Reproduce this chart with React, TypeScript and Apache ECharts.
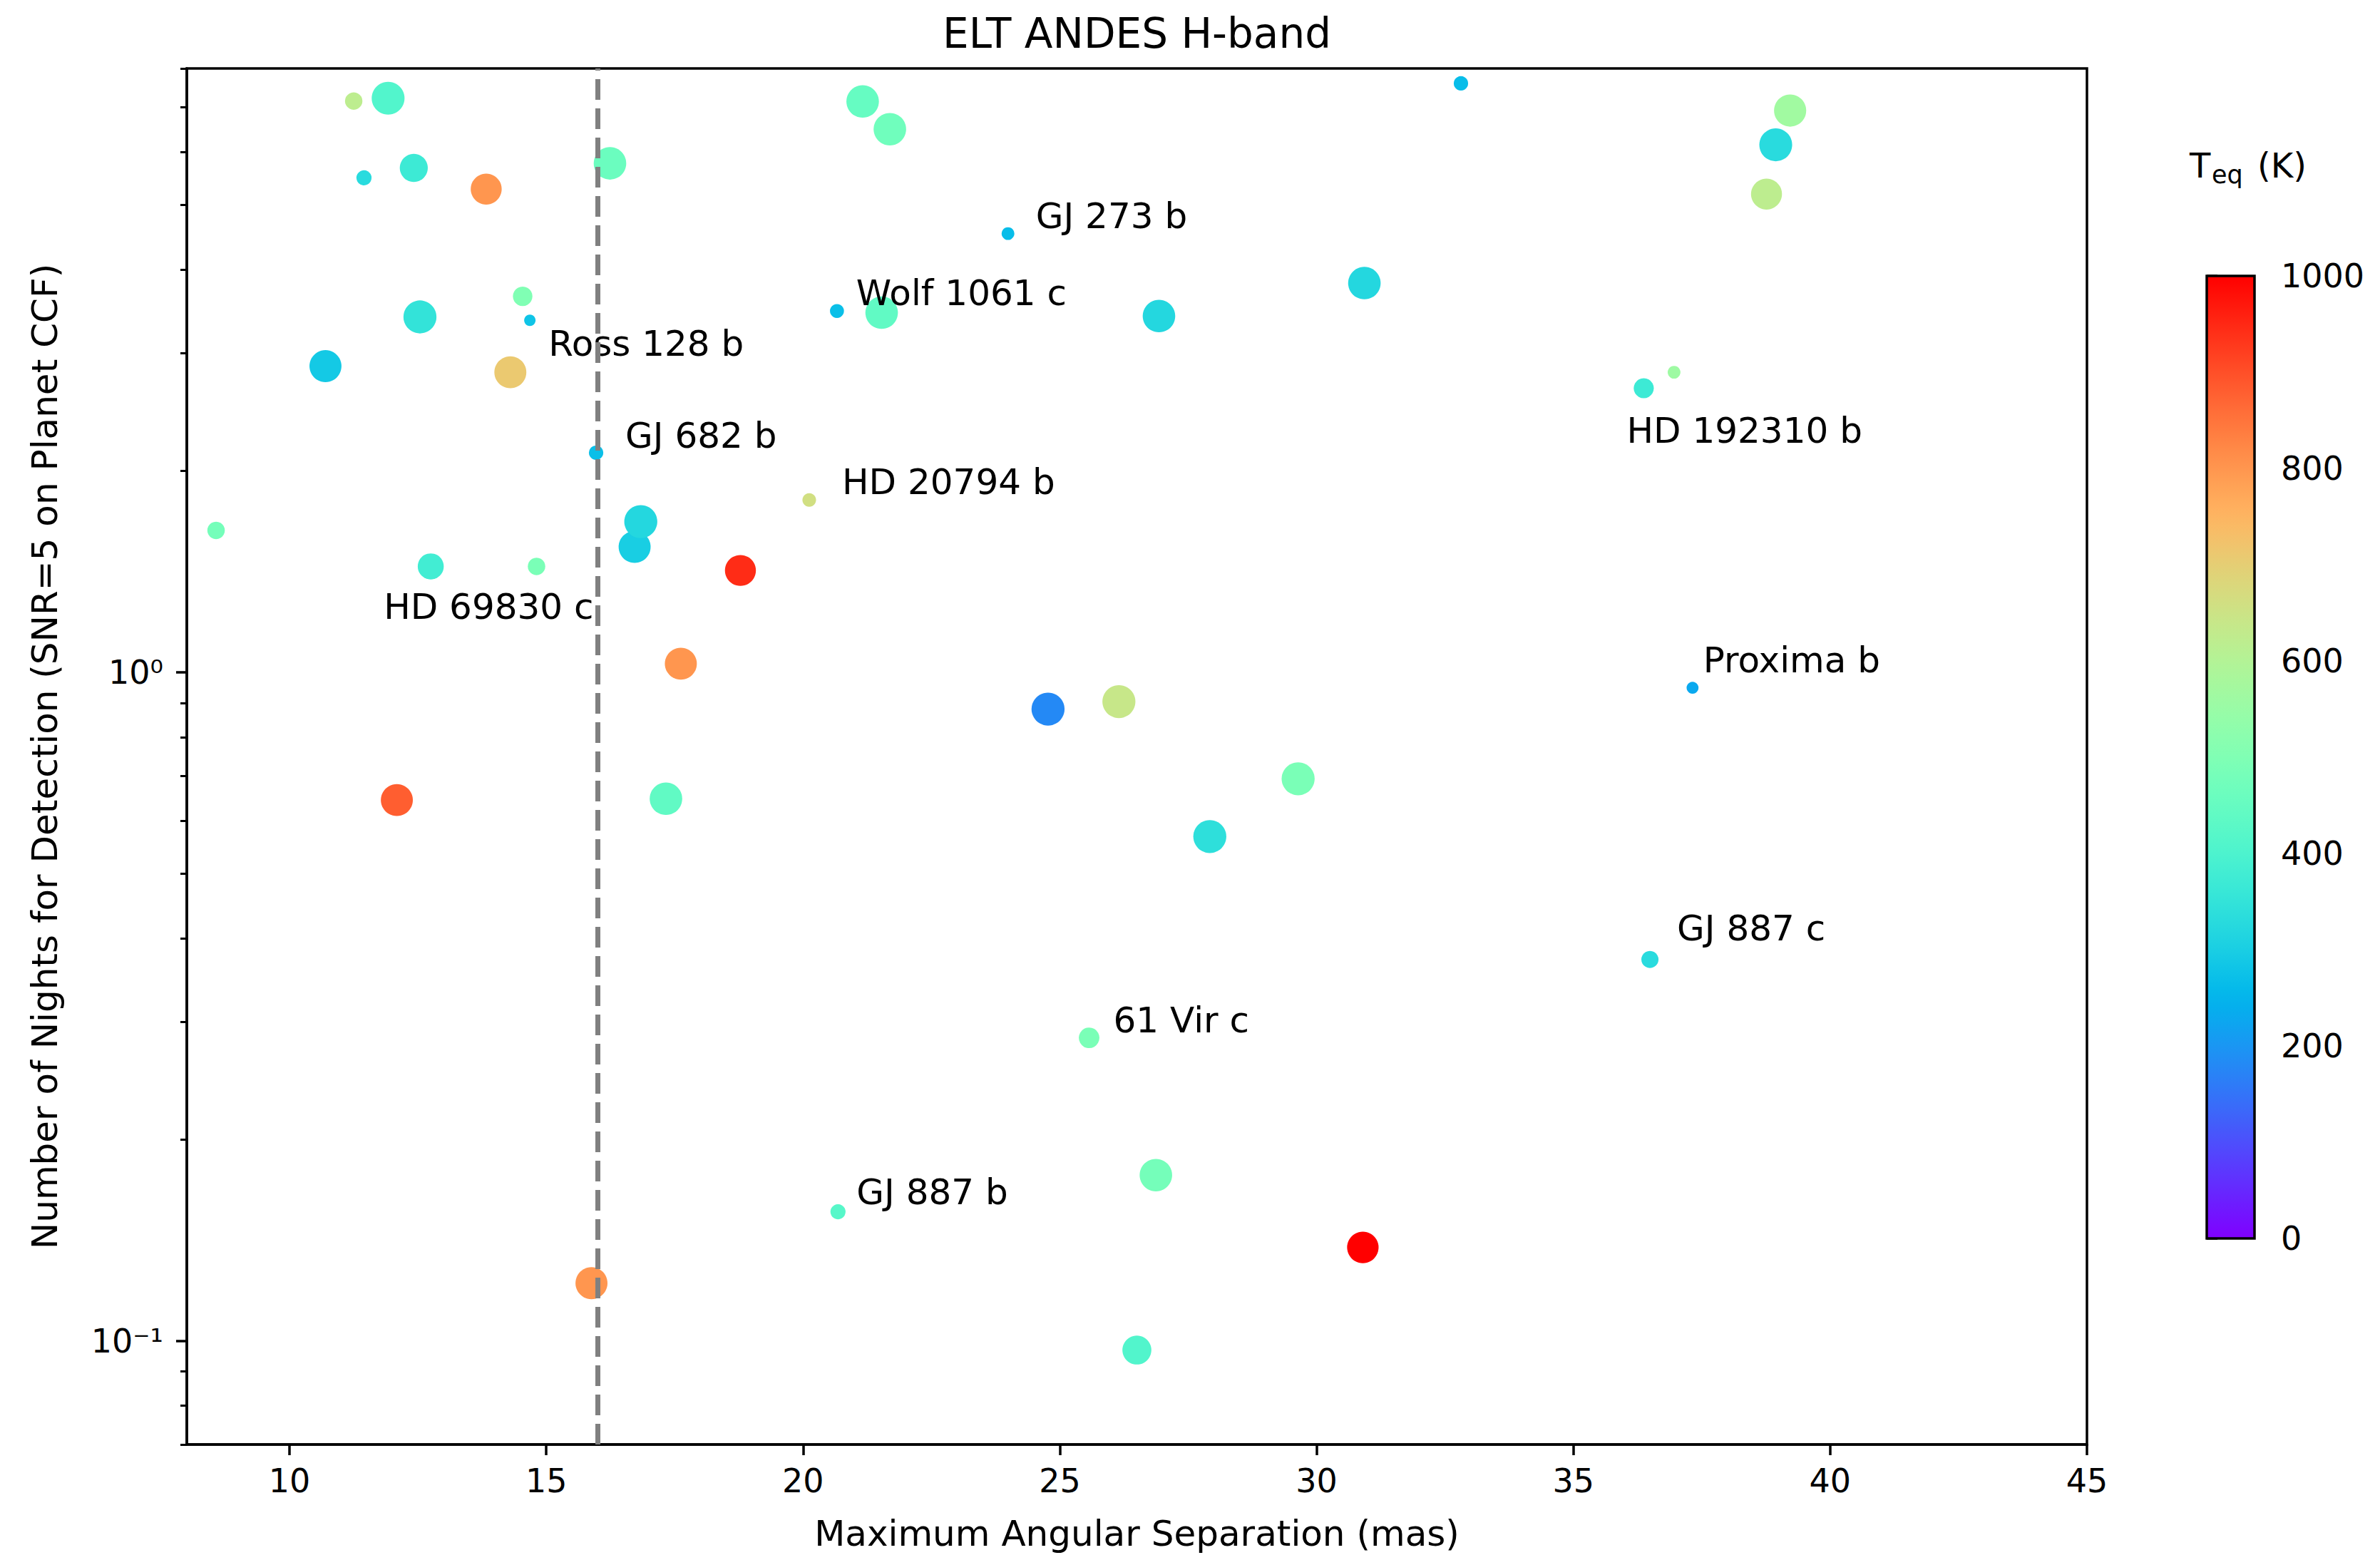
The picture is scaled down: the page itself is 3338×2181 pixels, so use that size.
import React, { useEffect, useRef } from "react";
import * as echarts from "echarts";

// ---- data ----
const sepMas = [
  11.25, 11.92, 11.45, 12.42, 13.83, 16.24, 21.16, 21.69, 32.81, 39.22, 38.94, 38.76,
  23.99, 14.54, 14.68, 12.54, 10.7, 14.3, 20.66, 21.53, 26.93, 30.93, 36.37, 36.96,
  15.97, 20.12, 8.57, 12.75, 14.81, 16.72, 16.84, 18.78, 17.62, 12.09, 17.33, 24.77,
  26.15, 29.64, 27.92, 37.32, 36.49, 25.57, 26.87, 20.68, 30.9, 15.88, 26.5,
];
const nightsNeeded = [
  7.15, 7.22, 5.49, 5.68, 5.28, 5.77, 7.14, 6.49, 7.6, 6.92, 6.15, 5.19,
  4.53, 3.65, 3.36, 3.4, 2.87, 2.81, 3.47, 3.45, 3.41, 3.82, 2.66, 2.81,
  2.13, 1.81, 1.63, 1.44, 1.44, 1.54, 1.68, 1.42, 1.03, 0.644, 0.647, 0.881,
  0.904, 0.693, 0.568, 0.948, 0.372, 0.284, 0.177, 0.156, 0.138, 0.122, 0.0969,
];
const teqK = [
  620, 410, 330, 370, 800, 460, 450, 470, 265, 565, 330, 620,
  265, 500, 280, 350, 290, 710, 270, 440, 320, 320, 370, 560,
  270, 660, 480, 380, 490, 300, 320, 945, 800, 880, 440, 180,
  640, 490, 340, 230, 330, 490, 480, 420, 1000, 800, 410,
];
// marker area (pt^2, as in matplotlib's scatter "s")
const markerArea = [
  28, 99, 21, 72, 88, 97, 97, 97, 19, 95, 99, 88,
  15, 35, 12, 100, 94, 94, 18, 97, 97, 97, 37, 15,
  19, 17, 28, 62, 28, 94, 100, 88, 94, 94, 97, 100,
  100, 100, 100, 13, 27, 39, 97, 21, 91, 94, 77,
];
const planetNames = [
  "", "", "", "", "", "", "", "", "", "", "", "",
  "GJ 273 b", "", "Ross 128 b", "", "", "", "Wolf 1061 c", "", "", "", "HD 192310 b", "",
  "GJ 682 b", "HD 20794 b", "", "HD 69830 c", "", "", "", "", "", "", "", "",
  "", "", "", "Proxima b", "GJ 887 c", "61 Vir c", "", "GJ 887 b", "", "", "",
];
const xTickValues = [10, 15, 20, 25, 30, 35, 40, 45];
const yMajorTicks = [0.1, 1];
const yMinorTicks = [0.07, 0.08, 0.09, 0.2, 0.3, 0.4, 0.5, 0.6, 0.7, 0.8, 0.9, 2, 3, 4, 5, 6, 7, 8];
const separationLimit = 16;

// ---- annotation placement (text offsets from the point centre, px) ----
const labelOffsets: Record<string, [number, number]> = {
  "Ross 128 b": [26, 33],
  "GJ 682 b": [41, -24],
  "HD 20794 b": [46, -25],
  "Wolf 1061 c": [27, -25],
  "GJ 273 b": [39, -25],
  "HD 192310 b": [-24, 60],
  "HD 69830 c": [-66, 57],
  "Proxima b": [15, -39],
  "GJ 887 c": [38, -44],
  "61 Vir c": [34, -25],
  "GJ 887 b": [26, -28],
};

const FONT = "DejaVu Sans";
const PX_PER_PT = 4.63;

function rainbow(t: number): string {
  const c = (v: number) => Math.round(Math.max(0, Math.min(1, v)) * 255);
  const tt = Math.max(0, Math.min(1, t));
  const r = Math.abs(2 * tt - 0.5);
  const g = Math.sin(Math.PI * tt);
  const b = Math.cos((Math.PI * tt) / 2);
  return `rgb(${c(r)},${c(g)},${c(b)})`;
}

export default function App() {
  const ref = useRef<HTMLDivElement>(null);
  useEffect(() => {
    if (!ref.current) return;
    const chart = echarts.init(ref.current, undefined, { renderer: "svg" });

    const points = sepMas.map((x, i) => {
      const d = Math.sqrt(markerArea[i]) * PX_PER_PT;
      const r = d / 2;
      const name = planetNames[i];
      const off = labelOffsets[name] || [0, 0];
      return {
        value: [x, nightsNeeded[i], teqK[i], markerArea[i], name],
        label: {
          show: !!name,
          position: [r + off[0], r + off[1]],
        },
      };
    });

    const stops = [];
    for (let k = 0; k <= 50; k++) {
      const t = k / 50;
      stops.push({ offset: t, color: rainbow(1 - t) });
    }

    const axisLine = { show: true, lineStyle: { color: "#000", width: 3.5 } };

    chart.setOption({
      animation: false,
      backgroundColor: "#fff",
      grid: [
        { left: 262, top: 96, width: 2665, height: 1932, show: true, borderColor: "#000", borderWidth: 3.5, backgroundColor: "transparent" },
        { left: 3095, top: 387, width: 67, height: 1350, show: false },
      ],
      xAxis: [
        {
          gridIndex: 0,
          type: "value",
          min: 8,
          max: 45,
          axisLine,
          splitLine: { show: false },
          axisTick: { show: true, customValues: xTickValues, length: 15, lineStyle: { color: "#000", width: 3.5 } },
          axisLabel: { customValues: xTickValues, fontSize: 46, fontFamily: FONT, color: "#000", margin: 28 },
          name: "Maximum Angular Separation (mas)",
          nameLocation: "middle",
          nameGap: 100,
          nameTextStyle: { fontSize: 50, fontFamily: FONT, color: "#000" },
        },
        { gridIndex: 1, type: "value", min: 0, max: 1, show: false },
      ],
      yAxis: [
        {
          gridIndex: 0,
          type: "log",
          logBase: 10,
          min: 0.07,
          max: 8,
          position: "left",
          axisLine,
          splitLine: { show: false },
          axisTick: { show: true, customValues: yMajorTicks, length: 15, lineStyle: { color: "#000", width: 3.5 } },
          axisLabel: {
            customValues: yMajorTicks,
            fontSize: 46,
            fontFamily: FONT,
            color: "#000",
            margin: 33,
            formatter: (v: number) => (Math.abs(v - 1) < 1e-6 ? "10⁰" : Math.abs(v - 0.1) < 1e-6 ? "10⁻¹" : ""),
          },
          name: "Number of Nights for Detection (SNR=5 on Planet CCF)",
          nameLocation: "middle",
          nameGap: 174,
          nameTextStyle: { fontSize: 50, fontFamily: FONT, color: "#000" },
        },
        {
          gridIndex: 0,
          type: "log",
          logBase: 10,
          min: 0.07,
          max: 8,
          position: "left",
          axisLine: { show: false },
          splitLine: { show: false },
          axisTick: { show: true, customValues: yMinorTicks, length: 9, lineStyle: { color: "#000", width: 3 } },
          axisLabel: { show: false },
        },
        {
          gridIndex: 1,
          type: "value",
          min: 0,
          max: 1000,
          interval: 200,
          position: "right",
          axisLine: { show: false },
          splitLine: { show: false },
          axisTick: { show: true, length: 15, lineStyle: { color: "#000", width: 3.5 } },
          axisLabel: { fontSize: 46, fontFamily: FONT, color: "#000", margin: 37, formatter: (v: number) => String(v) },
        },
      ],
      graphic: [
        {
          type: "text",
          x: 1594.5,
          y: 47,
          style: { text: "ELT ANDES H-band", fontSize: 58, fontFamily: FONT, fill: "#000", align: "center", verticalAlign: "middle" },
        },
        {
          type: "text",
          x: 3071,
          y: 232,
          style: { text: "T", fontSize: 48, fontFamily: FONT, fill: "#000", align: "left", verticalAlign: "middle" },
        },
        {
          type: "text",
          x: 3102,
          y: 245,
          style: { text: "eq", fontSize: 35, fontFamily: FONT, fill: "#000", align: "left", verticalAlign: "middle" },
        },
        {
          type: "text",
          x: 3166,
          y: 232,
          style: { text: "(K)", fontSize: 48, fontFamily: FONT, fill: "#000", align: "left", verticalAlign: "middle" },
        },
      ],
      series: [
        {
          type: "scatter",
          xAxisIndex: 0,
          yAxisIndex: 0,
          data: points,
          symbol: "circle",
          symbolSize: (val: any[]) => Math.sqrt(val[3]) * PX_PER_PT,
          itemStyle: { color: (p: any) => rainbow(p.value[2] / 1000), opacity: 1 },
          label: {
            show: false,
            formatter: (p: any) => p.value[4],
            fontSize: 50,
            fontFamily: FONT,
            color: "#000",
            align: "left",
            verticalAlign: "middle",
          },
          emphasis: { disabled: true },
          markLine: {
            silent: true,
            symbol: ["none", "none"],
            label: { show: false },
            lineStyle: { color: "#808080", width: 7, type: [29, 12] },
            data: [{ xAxis: separationLimit }],
          },
        },
        {
          type: "custom",
          xAxisIndex: 1,
          yAxisIndex: 2,
          silent: true,
          data: [[0, 0]],
          renderItem: (params: any, api: any) => {
            const tl = api.coord([0, 1000]);
            const br = api.coord([1, 0]);
            return {
              type: "rect",
              shape: { x: tl[0], y: tl[1], width: br[0] - tl[0], height: br[1] - tl[1] },
              style: {
                fill: new echarts.graphic.LinearGradient(0, 0, 0, 1, stops),
                stroke: "#000",
                lineWidth: 3.5,
              },
            };
          },
        },
      ],
    });
    return () => chart.dispose();
  }, []);
  return <div ref={ref} style={{ position: "fixed", left: 0, top: 0, width: 3338, height: 2181 }} />;
}
